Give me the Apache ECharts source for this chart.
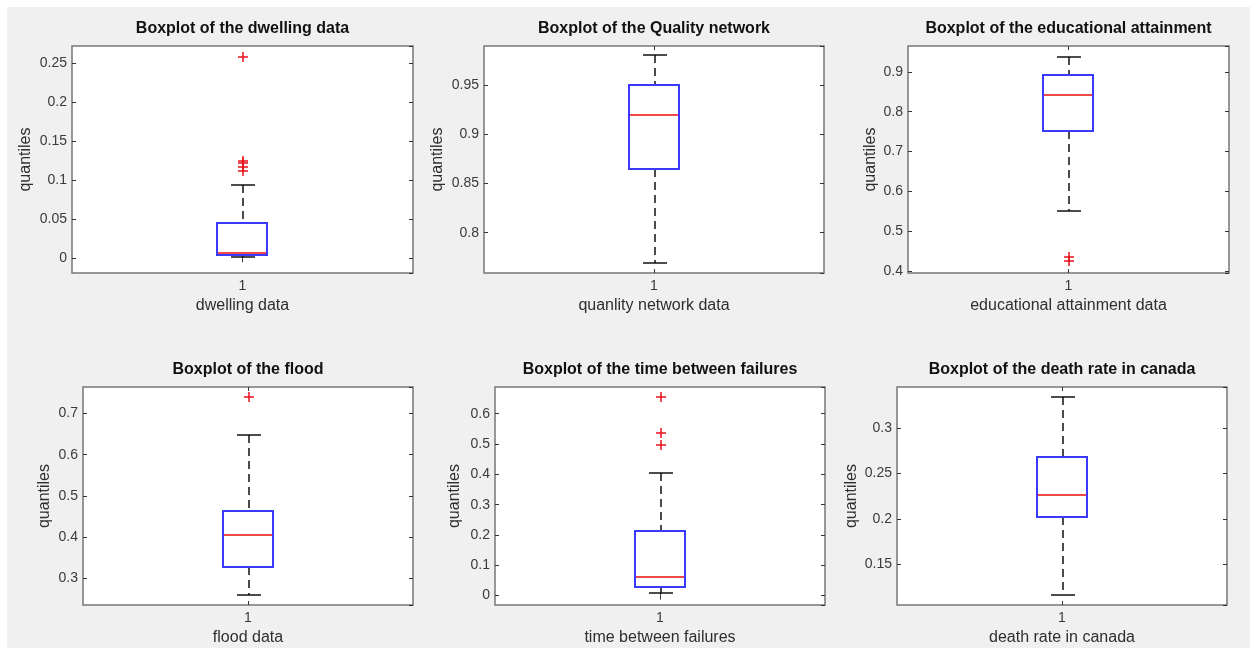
<!DOCTYPE html>
<html>
<head>
<meta charset="utf-8">
<script src="https://cdn.jsdelivr.net/npm/echarts@6/dist/echarts.min.js"></script>
<style>
  html, body { margin: 0; padding: 0; background: #fff; }
  #chart { width: 1250px; height: 648px; }
</style>
</head>
<body>
<div id="chart"></div>
<script>
// panel texts
const panelTitles = [
  'Boxplot of the dwelling data',
  'Boxplot of the Quality network',
  'Boxplot of the educational attainment',
  'Boxplot of the flood',
  'Boxplot of the time between failures',
  'Boxplot of the death rate in canada'
];
const xNames = [
  'dwelling data',
  'quanlity network data',
  'educational attainment data',
  'flood data',
  'time between failures',
  'death rate in canada'
];
const categories = ['1'];

// box statistics
const whiskerLow  = [0.001, 0.770, 0.551, 0.260, 0.006, 0.116];
const q1          = [0.003, 0.865, 0.750, 0.330, 0.029, 0.201];
const median      = [0.007, 0.920, 0.840, 0.405, 0.062, 0.226];
const q3          = [0.046, 0.950, 0.894, 0.465, 0.210, 0.268];
const whiskerHigh = [0.095, 0.980, 0.939, 0.650, 0.407, 0.334];
const outliers = [
  [0.259, 0.125, 0.121, 0.117, 0.112],
  [],
  [0.434, 0.423],
  [0.739],
  [0.655, 0.534, 0.499],
  []
];

// axis ranges
const yMin = [-0.019, 0.759, 0.395, 0.236, -0.031, 0.105];
const yMax = [0.272, 0.990, 0.965, 0.764, 0.688, 0.3455];

// layout of the six axes
const grids = [
  { left: 72,  top: 46,  width: 341, height: 227, nameGap: 38 },
  { left: 484, top: 46,  width: 340, height: 227, nameGap: 38 },
  { left: 908, top: 46,  width: 321, height: 227, nameGap: 29 },
  { left: 83,  top: 387, width: 330, height: 218, nameGap: 30 },
  { left: 495, top: 387, width: 330, height: 218, nameGap: 32 },
  { left: 897, top: 387, width: 330, height: 218, nameGap: 37 }
];

const FONT = '"Liberation Sans", Arial, Helvetica, sans-serif';
const BOX_HALF = 25;
const CAP_HALF = 12;

// 2px lines centred on odd pixels fill whole pixel pairs, keeps thin colours clean
function snap(v) { return 2 * Math.floor(v / 2) + 1; }

function boxPoints(api) {
  const x = api.value(0);
  return {
    cx: snap(api.coord([x, api.value(1)])[0]),
    lo: snap(api.coord([x, api.value(1)])[1]),
    q1: snap(api.coord([x, api.value(2)])[1]),
    med: snap(api.coord([x, api.value(3)])[1]),
    q3: snap(api.coord([x, api.value(4)])[1]),
    hi: snap(api.coord([x, api.value(5)])[1])
  };
}

function renderWhiskers(params, api) {
  const p = boxPoints(api);
  return {
    type: 'group',
    children: [
      { type: 'line', shape: { x1: p.cx, y1: p.hi, x2: p.cx, y2: p.q3 },
        style: { stroke: '#111111', lineWidth: 1.5, lineDash: [8, 5] } },
      { type: 'line', shape: { x1: p.cx, y1: p.q1, x2: p.cx, y2: p.lo },
        style: { stroke: '#111111', lineWidth: 1.5, lineDash: [8, 5] } },
      { type: 'line', shape: { x1: p.cx - CAP_HALF, y1: p.hi, x2: p.cx + CAP_HALF, y2: p.hi },
        style: { stroke: '#111111', lineWidth: 1.5 } },
      { type: 'line', shape: { x1: p.cx - CAP_HALF, y1: p.lo, x2: p.cx + CAP_HALF, y2: p.lo },
        style: { stroke: '#111111', lineWidth: 1.5 } }
    ]
  };
}

function renderBoxOutline(params, api) {
  const p = boxPoints(api);
  const l = p.cx - BOX_HALF - 1, r = p.cx + BOX_HALF - 1;
  return {
    type: 'polygon',
    shape: { points: [[l, p.q3], [r, p.q3], [r, p.q1], [l, p.q1]] },
    style: { stroke: '#3a3aff', fill: 'transparent', lineWidth: 2 }
  };
}

function renderMedian(params, api) {
  const p = boxPoints(api);
  return {
    type: 'line',
    shape: { x1: p.cx - BOX_HALF, y1: p.med, x2: p.cx + BOX_HALF - 2, y2: p.med },
    style: { stroke: '#f04848', lineWidth: 2 }
  };
}

function renderPlus(params, api) {
  const c = api.coord([api.value(0), api.value(1)]);
  const cx = snap(c[0]), cy = snap(c[1]);
  return {
    type: 'polyline',
    shape: { points: [[cx - 5, cy], [cx + 5, cy], [cx, cy], [cx, cy - 5], [cx, cy + 5]] },
    style: { stroke: '#e8101a', fill: 'transparent', lineWidth: 1.5 }
  };
}

const option = {
  backgroundColor: '#ffffff',
  animation: false,
  graphic: [{
    type: 'rect', z: -10, silent: true,
    shape: { x: 7, y: 7, width: 1250, height: 648 },
    style: { fill: '#f0f0f0' }
  }],
  title: [], grid: [], xAxis: [], yAxis: [], series: []
};

grids.forEach((g, i) => {
  option.title.push({
    text: panelTitles[i],
    left: g.left + g.width / 2,
    top: g.top - 25,
    textAlign: 'center',
    padding: 0,
    textStyle: { fontFamily: FONT, fontSize: 16, fontWeight: 'bold', color: '#111' }
  });
  option.grid.push({
    left: g.left, top: g.top, width: g.width, height: g.height,
    show: true, backgroundColor: '#fff', borderColor: '#777777', borderWidth: 1.5
  });
  const tick = { show: true, inside: true, length: 4, alignWithLabel: true, lineStyle: { color: '#333' } };
  option.xAxis.push({
    type: 'category', gridIndex: i, data: categories, position: 'bottom',
    axisLine: { show: false }, axisTick: tick,
    axisLabel: { margin: 6, fontFamily: FONT, fontSize: 14, color: '#3a3a3a' },
    name: xNames[i], nameLocation: 'middle', nameGap: 25,
    nameTextStyle: { fontFamily: FONT, fontSize: 16, color: '#2e2e2e' }
  });
  option.xAxis.push({
    type: 'category', gridIndex: i, data: categories, position: 'top',
    axisLine: { show: false }, axisTick: tick, axisLabel: { show: false }
  });
  const yTick = { show: true, inside: true, length: 4, lineStyle: { color: '#333' } };
  option.yAxis.push({
    type: 'value', gridIndex: i, min: yMin[i], max: yMax[i], splitNumber: 5,
    position: 'left',
    axisLine: { show: false }, axisTick: yTick, splitLine: { show: false },
    axisLabel: { margin: 5, showMinLabel: false, showMaxLabel: false,
      fontFamily: FONT, fontSize: 14, color: '#3a3a3a' },
    name: 'quantiles', nameLocation: 'middle', nameGap: g.nameGap,
    nameTextStyle: { fontFamily: FONT, fontSize: 16, color: '#2e2e2e' }
  });
  option.yAxis.push({
    type: 'value', gridIndex: i, min: yMin[i], max: yMax[i], splitNumber: 5,
    position: 'right',
    axisLine: { show: false }, axisTick: yTick, splitLine: { show: false },
    axisLabel: { show: false }
  });

  const boxData = [[0, whiskerLow[i], q1[i], median[i], q3[i], whiskerHigh[i]]];
  const common = {
    type: 'custom', xAxisIndex: 2 * i, yAxisIndex: 2 * i,
    encode: { x: 0, y: [1, 2, 3, 4, 5] }, data: boxData, silent: true
  };
  option.series.push(Object.assign({}, common, { renderItem: renderWhiskers, z: 3 }));
  option.series.push(Object.assign({}, common, { renderItem: renderBoxOutline, z: 4 }));
  option.series.push(Object.assign({}, common, { renderItem: renderMedian, z: 5 }));
  option.series.push({
    type: 'custom', xAxisIndex: 2 * i, yAxisIndex: 2 * i,
    renderItem: renderPlus, silent: true,
    encode: { x: 0, y: 1 },
    data: outliers[i].map(v => [0, v]),
    z: 6
  });
});

const chart = echarts.init(document.getElementById('chart'), null, { renderer: 'canvas' });
chart.setOption(option);
</script>
</body>
</html>
